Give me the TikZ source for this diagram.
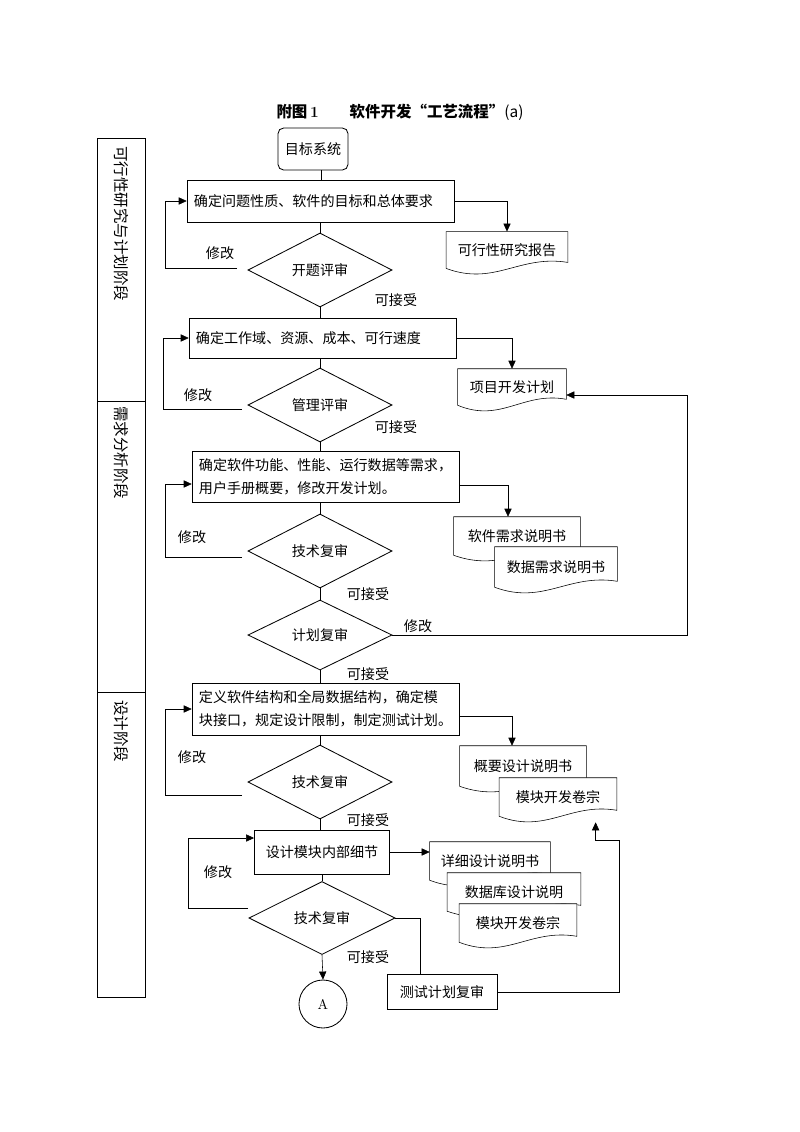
\documentclass[tikz,border=0pt]{standalone}
\usepackage{fontspec}
\newfontfamily\cjk{Noto Sans CJK SC}
\usepackage{tikz}
\usetikzlibrary{arrows.meta,shapes.geometric,positioning,backgrounds,calc}
% outline of a document node, wavy lower edge
\newcommand{\docwave}[1]{%
  \begin{pgfonlayer}{background}
  \filldraw[fill=white] (#1.north west) -- (#1.north east) -- ($(#1.south east)+(0,-6)$)
    .. controls ($(#1.south west)!0.6!(#1.south east)+(0,-14)$) and ($(#1.south west)!0.4!(#1.south east)+(0,18)$) .. (#1.south west) -- cycle;
  \end{pgfonlayer}}

\begin{document}
\begin{tikzpicture}[x=0.025cm,y=-0.025cm,line width=0.6pt,
  >={Triangle[length=2mm,width=1.8mm]},
  box/.style={draw,rectangle,inner sep=0pt,font=\cjk},
  wide/.style={box,text width=6.35cm,inner xsep=0.17cm,align=left,font=\cjk\fontsize{10}{16}\selectfont},
  dia/.style={draw,diamond,inner sep=0pt,minimum width=3.6cm,minimum height=1.85cm,font=\cjk},
  doc/.style={rectangle,inner sep=0pt,font=\cjk},
  lbl/.style={font=\cjk,inner sep=1pt},
  stage/.style={rotate=-90,anchor=west,inner sep=0pt,font=\cjk\fontsize{11}{13}\selectfont}]
  \useasboundingbox (0,0) rectangle (800,1132);

  \node[font=\cjk\bfseries\fontsize{11}{13}\selectfont] (title) at (400,112)
    {附图\,{\rmfamily 1}\hspace{2em}软件开发“工艺流程”{\mdseries (a)}}; % title

  \draw (97,138) rectangle (145,997) ;  % stage column
  \draw (97,401) -- (145,401) ;
  \draw (97,692) -- (145,692) ;
  \node[stage] (s1) at (121,146) {可行性研究与计划阶段};
  \node[stage] (s2) at (121,406) {需求分析阶段};
  \node[stage] (s3) at (121,700) {设计阶段};

  % main column
  \node[box,rounded corners=4pt,minimum width=1.75cm,minimum height=1.05cm] (n0) at (313,149) {目标系统};
  \node[wide,minimum height=1.05cm] (b1) at (321,201) {确定问题性质、软件的目标和总体要求};
  \node[dia] (q1) at (320,270) {开题评审};
  \node[wide,minimum height=1.0cm] (b2) at (323,338) {确定工作域、资源、成本、可行速度};
  \node[dia] (q2) at (320,405) {管理评审};
  \node[wide,minimum height=1.28cm] (b3) at (326,477) {确定软件功能、性能、运行数据等需求，\\用户手册概要，修改开发计划。};
  \node[dia] (q3) at (320,551) {技术复审};
  \node[dia,minimum height=1.75cm] (q4) at (320,635) {计划复审};
  \node[wide,minimum height=1.3cm] (b4) at (326,709) {定义软件结构和全局数据结构，确定模\\块接口，规定设计限制，制定测试计划。};
  \node[dia] (q5) at (320,782) {技术复审};
  \node[box,minimum width=3.375cm,minimum height=1.1cm] (b5) at (322,852) {设计模块内部细节};
  \node[dia,minimum width=3.65cm,minimum height=1.825cm] (q6) at (322,918) {技术复审};
  \node[draw,circle,minimum size=1.2cm,inner sep=0pt] (cA) at (323,1004) {A};
  \node[box,minimum width=2.75cm,minimum height=0.875cm] (b6) at (442,992) {测试计划复审};

  % documents
  \node[doc,minimum width=3.025cm,minimum height=0.9cm] (d1) at (507,250) {可行性研究报告}; \docwave{d1}
  \node[doc,minimum width=2.7cm,minimum height=0.9cm] (d2) at (512,387) {项目开发计划}; \docwave{d2}
  \node[doc,minimum width=3.15cm,minimum height=0.95cm] (d3a) at (517,536) {软件需求说明书}; \docwave{d3a}
  \node[doc,minimum width=3.05cm,minimum height=1.0cm] (d3b) at (556,567) {数据需求说明书}; \docwave{d3b}
  \node[doc,minimum width=3.15cm,minimum height=1.0cm] (d4a) at (523,766) {概要设计说明书}; \docwave{d4a}
  \node[doc,minimum width=2.925cm,minimum height=0.95cm] (d4b) at (558,797) {模块开发卷宗}; \docwave{d4b}
  \node[doc,minimum width=3.0cm,minimum height=0.95cm] (d5a) at (490,861) {详细设计说明书}; \docwave{d5a}
  \node[doc,minimum width=3.325cm,minimum height=0.95cm] (d5b) at (514,892) {数据库设计说明}; \docwave{d5b}
  \node[doc,minimum width=2.925cm,minimum height=0.95cm] (d5c) at (518,923) {模块开发卷宗}; \docwave{d5c}

  % straight links
  \draw (b1.north) -- (b1.north |- n0.south) ;
  \draw (q1.north) -- (q1.north |- b1.south) ;
  \draw (q1.south) -- (q1.south |- b2.north) ;
  \draw (q2.north) -- (q2.north |- b2.south) ;
  \draw (q2.south) -- (q2.south |- b3.north) ;
  \draw (q3.north) -- (q3.north |- b3.south) ;
  \draw (q3.south) -- (q4.north) ;
  \draw (q4.south) -- (q4.south |- b4.north) ;
  \draw (q5.north) -- (q5.north |- b4.south) ;
  \draw (q5.south) -- (q5.south |- b5.north) ;
  \draw (q6.north) -- (q6.north |- b5.south) ;
  \draw[->] (q6.south) -- (cA.north) ;

  % outputs
  \draw[->] (b1.east) -| (d1.north) ;
  \draw[->] (b2.east) -| (d2.north) ;
  \draw[->] ([yshift=-0.2cm]b3.east) -| ([xshift=-0.225cm]d3a.north) ;
  \draw[->] ([yshift=-0.175cm]b4.east) -| ([xshift=-0.275cm]d4a.north) ;
  \draw[->] (b5.east) -- (b5.east -| d5a.west) ;
  \draw[->] (q4.east) -- ++(295,0) |- ([yshift=-0.2cm]d2.east) ;
  \draw (q6.east) -| ([xshift=-0.55cm]b6.north) ;
  \draw[->] (b6.east) -| ++(122,-152) -| ($(d4b.south west)!0.82!(d4b.south east)+(0,6)$) ;

  % revise loops
  \coordinate (r1) at (237,268);
  \coordinate (r2) at (242,409);
  \coordinate (r3) at (242,557);
  \coordinate (r4) at (242,795);
  \coordinate (r5) at (248,908);
  \draw[->] (r1) -- ++(-72,0) |- (b1.west) ;
  \draw[->] (r2) -- ++(-79,0) |- (b2.west) ;
  \draw[->] (r3) -- ++(-77,0) |- ([yshift=-0.175cm]b3.west) ;
  \draw[->] (r4) -- ++(-77,0) |- (b4.west) ;
  \draw[->] (r5) -- ++(-60,0) |- ([yshift=0.35cm]b5.west) ;

  % labels
  \node[lbl] (m1) at (220,253) {修改};
  \node[lbl] (m2) at (198,395) {修改};
  \node[lbl] (m3) at (192,537) {修改};
  \node[lbl] (m4) at (418,626) {修改};
  \node[lbl] (m5) at (192,757) {修改};
  \node[lbl] (m6) at (218,872) {修改};
  \node[lbl] (k1) at (396,300) {可接受};
  \node[lbl] (k2) at (396,427) {可接受};
  \node[lbl] (k3) at (368,594) {可接受};
  \node[lbl] (k4) at (368,674) {可接受};
  \node[lbl] (k5) at (368,820) {可接受};
  \node[lbl] (k6) at (368,957) {可接受};
\end{tikzpicture}
\end{document}
